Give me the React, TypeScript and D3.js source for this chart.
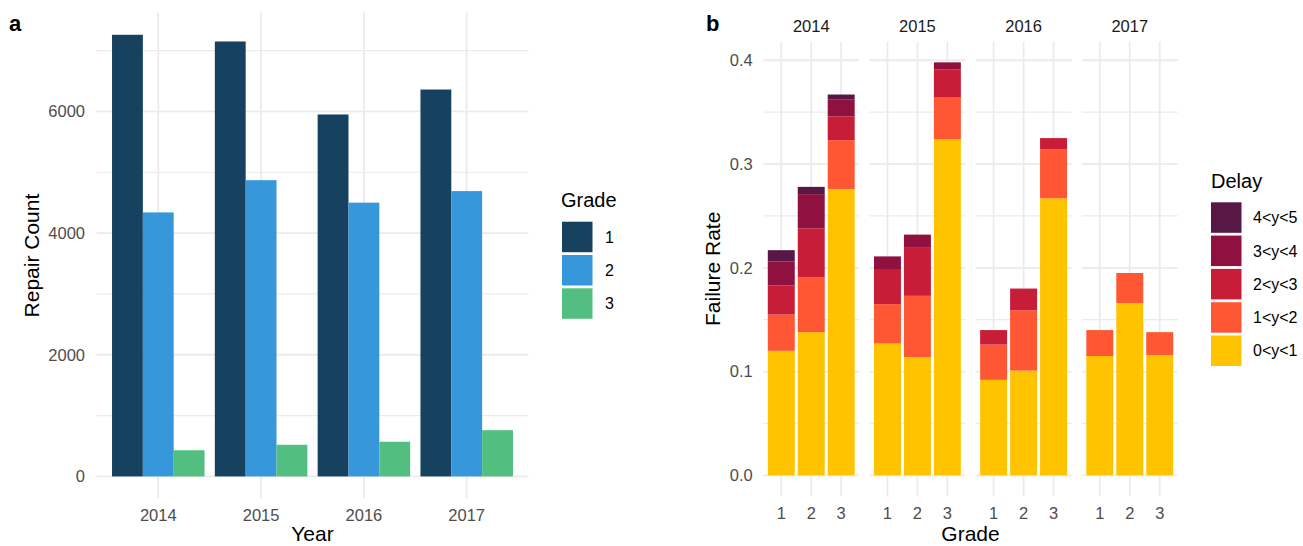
import React from "react";
import * as d3 from "d3";

// ---- Panel a: repair counts by year and grade ----
const years = ["2014", "2015", "2016", "2017"];
const grades = ["1", "2", "3"];
const repairGrade1 = [7260, 7150, 5950, 6360];
const repairGrade2 = [4340, 4870, 4500, 4690];
const repairGrade3 = [430, 520, 570, 760];
const repairTicks = [0, 2000, 4000, 6000];
const repairMinorTicks = [1000, 3000, 5000, 7000];
const gradeColors = ["#17425f", "#3697db", "#52bf80"];

// ---- Panel b: failure rate by delay bin (year-major, grades 1..3 inside each year) ----
const delayBins = ["0<y<1", "1<y<2", "2<y<3", "3<y<4", "4<y<5"];
const rateDelay0to1 = [0.12, 0.138, 0.276, 0.127, 0.114, 0.324, 0.092, 0.101, 0.267, 0.115, 0.166, 0.116];
const rateDelay1to2 = [0.035, 0.053, 0.047, 0.038, 0.059, 0.04, 0.034, 0.058, 0.047, 0.025, 0.029, 0.022];
const rateDelay2to3 = [0.028, 0.047, 0.023, 0.033, 0.047, 0.027, 0.014, 0.021, 0.011, 0, 0, 0];
const rateDelay3to4 = [0.023, 0.033, 0.016, 0.013, 0.012, 0.007, 0, 0, 0, 0, 0, 0];
const rateDelay4to5 = [0.011, 0.007, 0.005, 0, 0, 0, 0, 0, 0, 0, 0, 0];
const rateTicks = [0, 0.1, 0.2, 0.3, 0.4];
const rateMinorTicks = [0.05, 0.15, 0.25, 0.35];
const delayColors = ["#ffc300", "#ff5733", "#c81d38", "#901040", "#581845"];

const FONT = "'Liberation Sans', Arial, Helvetica, sans-serif";
const GRID = "#ebebeb";
const TICK_TEXT = "#4d4d4d";
const TICK_SIZE = 16.5;

function PanelA() {
  const left = 96.6, right = 528.4, top = 12.7, bottom = 498.5;
  const series = [repairGrade1, repairGrade2, repairGrade3];
  const maxVal = d3.max(series.flat()) as number;
  const y = d3.scaleLinear().domain([-0.05 * maxVal, 1.05 * maxVal]).range([bottom, top]);
  const x = d3.scaleBand<string>().domain(years).range([left, right]).paddingInner(0.1).paddingOuter(0.15);
  const xg = d3.scaleBand<string>().domain(grades).range([0, x.bandwidth()]);
  const legendStep = 33.3;
  return (
    <g>
      <text x={9} y={31} fontSize={22} fontWeight="bold" fontFamily={FONT} fill="#000">a</text>
      {repairMinorTicks.map((t) => (
        <line key={"mn" + t} x1={left} x2={right} y1={y(t)} y2={y(t)} stroke={GRID} strokeWidth={1.2} />
      ))}
      {repairTicks.map((t) => (
        <line key={"mj" + t} x1={left} x2={right} y1={y(t)} y2={y(t)} stroke={GRID} strokeWidth={1.8} />
      ))}
      {years.map((yr) => (
        <line key={"v" + yr} x1={x(yr)! + x.bandwidth() / 2} x2={x(yr)! + x.bandwidth() / 2} y1={top} y2={bottom} stroke={GRID} strokeWidth={1.8} />
      ))}
      {years.map((yr, i) =>
        grades.map((g, j) => (
          <rect
            key={yr + g}
            x={x(yr)! + xg(g)!}
            width={xg.bandwidth()}
            y={y(series[j][i])}
            height={y(0) - y(series[j][i])}
            fill={gradeColors[j]}
          />
        ))
      )}
      {repairTicks.map((t) => (
        <text key={"yl" + t} x={85} y={y(t)} dy="0.35em" textAnchor="end" fontSize={TICK_SIZE} fontFamily={FONT} fill={TICK_TEXT}>{t}</text>
      ))}
      {years.map((yr) => (
        <text key={"xl" + yr} x={x(yr)! + x.bandwidth() / 2} y={521} textAnchor="middle" fontSize={TICK_SIZE} fontFamily={FONT} fill={TICK_TEXT}>{yr}</text>
      ))}
      <text x={(left + right) / 2} y={541} textAnchor="middle" fontSize={21} fontFamily={FONT} fill="#000">Year</text>
      <text transform={`translate(39,${(top + bottom) / 2}) rotate(-90)`} textAnchor="middle" fontSize={21} fontFamily={FONT} fill="#000">Repair Count</text>
      <text x={561} y={207} fontSize={20} fontFamily={FONT} fill="#000">Grade</text>
      {grades.map((g, j) => (
        <g key={"lg" + g}>
          <rect x={562} y={221.7 + j * legendStep} width={30.5} height={30.5} fill={gradeColors[j]} />
          <text x={605} y={221.7 + j * legendStep + 15.3} dy="0.35em" fontSize={16} fontFamily={FONT} fill="#000">{g}</text>
        </g>
      ))}
    </g>
  );
}

function PanelB() {
  const left = 763.3, right = 1177.7, top = 41.7, bottom = 496;
  const binValues = [rateDelay0to1, rateDelay1to2, rateDelay2to3, rateDelay3to4, rateDelay4to5];
  const records = years.flatMap((yr, i) =>
    grades.map((g, j) => {
      const rec: Record<string, any> = { year: yr, grade: g };
      delayBins.forEach((b, k) => (rec[b] = binValues[k][i * 3 + j]));
      return rec;
    })
  );
  const stacked = d3.stack<Record<string, any>>().keys(delayBins)(records);
  const maxVal = d3.max(stacked[stacked.length - 1], (d) => d[1]) as number;
  const y = d3.scaleLinear().domain([-0.05 * maxVal, 1.05 * maxVal]).range([bottom, top]);
  const facet = d3.scaleBand<string>().domain(years).range([left, right]).paddingInner(0.097).paddingOuter(0);
  const x = d3.scaleBand<string>().domain(grades).range([0, facet.bandwidth()]).paddingInner(0.1).paddingOuter(0.15);
  const fmt = d3.format(".1f");
  const legendStep = 33.3;
  const legendOrder = delayBins.map((_, k) => delayBins.length - 1 - k);
  return (
    <g>
      <text x={706} y={31} fontSize={22} fontWeight="bold" fontFamily={FONT} fill="#000">b</text>
      {years.map((yr) => {
        const fx = facet(yr)!;
        return (
          <g key={"f" + yr}>
            <text x={fx + facet.bandwidth() / 2} y={32} textAnchor="middle" fontSize={16.5} fontFamily={FONT} fill="#1a1a1a">{yr}</text>
            {rateMinorTicks.map((t) => (
              <line key={"mn" + t} x1={fx} x2={fx + facet.bandwidth()} y1={y(t)} y2={y(t)} stroke={GRID} strokeWidth={1.2} />
            ))}
            {rateTicks.map((t) => (
              <line key={"mj" + t} x1={fx} x2={fx + facet.bandwidth()} y1={y(t)} y2={y(t)} stroke={GRID} strokeWidth={1.8} />
            ))}
            {grades.map((g) => (
              <g key={"v" + g}>
                <line x1={fx + x(g)! + x.bandwidth() / 2} x2={fx + x(g)! + x.bandwidth() / 2} y1={top} y2={bottom} stroke={GRID} strokeWidth={1.8} />
                <text x={fx + x(g)! + x.bandwidth() / 2} y={519} textAnchor="middle" fontSize={TICK_SIZE} fontFamily={FONT} fill={TICK_TEXT}>{g}</text>
              </g>
            ))}
          </g>
        );
      })}
      {stacked.map((layer, k) =>
        layer.map((d, idx) =>
          d[1] - d[0] > 0 ? (
            <rect
              key={layer.key + idx}
              x={facet(d.data.year)! + x(d.data.grade)!}
              width={x.bandwidth()}
              y={y(d[1])}
              height={y(d[0]) - y(d[1])}
              fill={delayColors[k]}
            />
          ) : null
        )
      )}
      {rateTicks.map((t) => (
        <text key={"yl" + t} x={752.7} y={y(t)} dy="0.35em" textAnchor="end" fontSize={TICK_SIZE} fontFamily={FONT} fill={TICK_TEXT}>{fmt(t)}</text>
      ))}
      <text x={(left + right) / 2} y={541} textAnchor="middle" fontSize={21} fontFamily={FONT} fill="#000">Grade</text>
      <text transform={`translate(720,${(top + bottom) / 2}) rotate(-90)`} textAnchor="middle" fontSize={21} fontFamily={FONT} fill="#000">Failure Rate</text>
      <text x={1211} y={188} fontSize={20} fontFamily={FONT} fill="#000">Delay</text>
      {legendOrder.map((k, i) => (
        <g key={"lg" + k}>
          <rect x={1211} y={202.3 + i * legendStep} width={30.5} height={30.5} fill={delayColors[k]} />
          <text x={1253} y={202.3 + i * legendStep + 15.3} dy="0.35em" fontSize={16} fontFamily={FONT} fill="#000">{delayBins[k]}</text>
        </g>
      ))}
    </g>
  );
}

export default function App() {
  return (
    <svg
      width={1303}
      height={546}
      viewBox="0 0 1303 546"
      style={{ position: "absolute", left: 0, top: 0, background: "#fff" }}
    >
      <rect x={0} y={0} width={1303} height={546} fill="#fff" />
      <PanelA />
      <PanelB />
    </svg>
  );
}
